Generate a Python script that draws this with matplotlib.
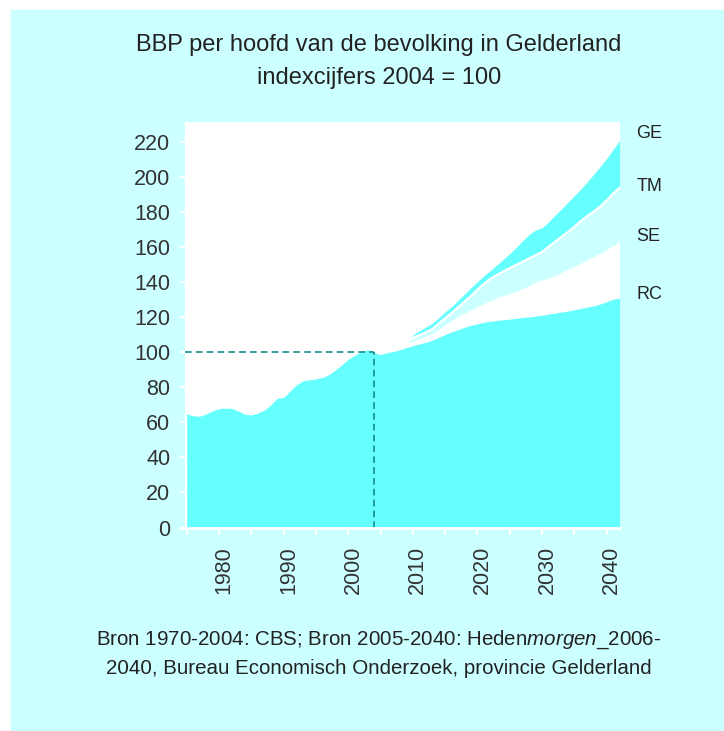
import numpy as np
import matplotlib
matplotlib.use("Agg")
import matplotlib.pyplot as plt
import matplotlib.transforms as mtransforms
from matplotlib.patches import Rectangle

plt.rcParams['font.family'] = ['Liberation Sans', 'DejaVu Sans']
plt.rcParams['mathtext.fontset'] = 'custom'
plt.rcParams['mathtext.rm'] = 'Liberation Sans'
plt.rcParams['mathtext.it'] = 'Liberation Sans:italic'

# =============================================================================
# DATA (index 2004 = 100)
# =============================================================================
years = list(range(1975, 2043))
bbp_rc = [64.9, 63.8, 63.6, 64.8, 66.7, 67.9, 68.2, 68.0, 66.5, 64.7,
          64.3, 65.3, 67.0, 70.0, 73.8, 74.3, 78.0, 81.5, 83.8, 84.4,
          84.9, 85.7, 87.3, 90.0, 92.9, 96.1, 98.3, 100.5, 101.6, 100.0,
          98.8, 99.9, 100.6, 101.5, 102.8, 103.9, 104.9, 105.8, 107.0, 108.6,
          110.3, 111.7, 113.0, 114.4, 115.5, 116.4, 117.2, 117.8, 118.3, 118.7,
          119.0, 119.5, 120.0, 120.3, 120.8, 121.3, 121.9, 122.5, 123.1, 123.7,
          124.4, 125.1, 125.9, 126.6, 127.7, 129.0, 130.4, 131.0]

scen_years = list(range(2009, 2043))
bbp_ge = [106.0, 110.0, 112.3, 114.5, 116.6, 119.8, 123.2, 126.2, 129.8, 133.4,
          137.0, 140.5, 143.8, 146.8, 150.0, 153.2, 156.5, 160.0, 163.8, 167.5,
          170.0, 171.2, 174.5, 178.4, 182.0, 185.8, 189.6, 193.3, 197.5, 201.8,
          206.2, 210.8, 216.0, 221.0]
bbp_tm = [106.0, 108.3, 109.8, 111.5, 113.3, 116.4, 119.5, 122.5, 125.8, 129.0,
          132.3, 135.8, 139.2, 142.0, 144.2, 146.3, 148.2, 150.0, 151.8, 153.7,
          155.6, 157.4, 160.3, 163.2, 166.0, 168.8, 171.8, 175.0, 177.8, 180.5,
          183.3, 186.8, 190.8, 194.0]
bbp_se = [106.0, 106.4, 107.8, 109.4, 110.8, 113.2, 115.8, 118.2, 120.5, 122.5,
          124.4, 126.4, 128.0, 129.6, 131.2, 132.5, 133.8, 135.0, 136.5, 138.3,
          140.2, 141.4, 142.6, 143.9, 145.8, 147.6, 149.3, 151.0, 152.9, 154.8,
          156.7, 158.8, 161.0, 163.3]

scen_labels = ['GE', 'TM', 'SE', 'RC']
scen_label_y = [224.9, 195.1, 166.0, 132.9]

y_ticks = list(range(0, 221, 20))
x_ticks = list(range(1975, 2041, 5))
x_tick_labels = [str(y) if y % 10 == 0 else '' for y in x_ticks]

base_year = 2004
base_index = 100

bg = '#CCFFFF'
fill = '#66FFFF'
pale = '#CCFFFF'
dash_col = '#148C8C'
text_col = '#222222'

# =============================================================================
# FIGURE
# =============================================================================
W, H = 724, 731
fig = plt.figure(figsize=(W / 100, H / 100), dpi=100)
fig.add_artist(Rectangle((11 / W, 0), 1 - 11 / W, (H - 10) / H,
                         transform=fig.transFigure, color=bg, zorder=-10))

ax = fig.add_axes([185 / W, (H - 527.5) / H, 435 / W, 405.2 / H])
ax.set_facecolor('white')
x0, x1 = 1974.74, 2042.07
ax.set_xlim(x0, x1)
ax.set_ylim(0, 231.5)

ax.fill_between(years, 0, bbp_rc, color=fill, lw=0, zorder=2)
ax.fill_between(scen_years, bbp_tm, bbp_ge, color=fill, lw=0, zorder=2)
ax.fill_between(scen_years, bbp_se, bbp_tm, color=pale, lw=0, zorder=2)
ax.plot(scen_years, bbp_tm, color='white', lw=1.6, zorder=3)

# reference lines for 2004 = 100
ax.plot([x0, base_year], [base_index, base_index], color=dash_col, lw=1.2,
        ls=(0, (4, 2.5)), zorder=4)
ax.plot([base_year, base_year], [0, base_index], color=dash_col, lw=1.2,
        ls=(0, (4, 2.5)), zorder=4)

for s in ax.spines.values():
    s.set_visible(False)
ax.plot([-5 / 435, 1], [0, 0], transform=ax.transAxes, color='white',
        lw=2, clip_on=False, zorder=5)

ax.set_yticks(y_ticks)
ax.set_xticks(x_ticks)
ax.set_xticklabels(x_tick_labels, rotation=90)
ax.tick_params(axis='y', colors='white', length=3.6, width=1.3, pad=7,
               labelcolor='#333333', labelsize=15.5)
ax.tick_params(axis='x', colors='white', length=5.2, width=1.3, pad=8,
               labelcolor='#333333', labelsize=15.5)

# rotated year labels sit a little right of their ticks in the original
shift = mtransforms.ScaledTranslation(0.05, 0, fig.dpi_scale_trans)
for lbl in ax.get_xticklabels():
    lbl.set_transform(lbl.get_transform() + shift)

for lab, yv in zip(scen_labels, scen_label_y):
    ax.text(2044.6, yv, lab, ha='left', va='center', fontsize=13,
            color=text_col, clip_on=False)

# =============================================================================
# TITLES / SOURCE
# =============================================================================
cx = 379 / W
fig.text(cx, 1 - 45 / H, 'BBP per hoofd van de bevolking in Gelderland',
         ha='center', va='center', fontsize=17, color=text_col)
fig.text(cx, 1 - 78 / H, 'indexcijfers 2004 = 100',
         ha='center', va='center', fontsize=17, color=text_col)
fig.text(cx, 1 - 640 / H,
         r'Bron 1970-2004: CBS; Bron 2005-2040: Heden$\mathit{morgen}$_2006-',
         ha='center', va='center', fontsize=14.8, color=text_col)
fig.text(cx, 1 - 668 / H,
         '2040, Bureau Economisch Onderzoek, provincie Gelderland',
         ha='center', va='center', fontsize=14.8, color=text_col)

fig.savefig('out.png', dpi=100)
